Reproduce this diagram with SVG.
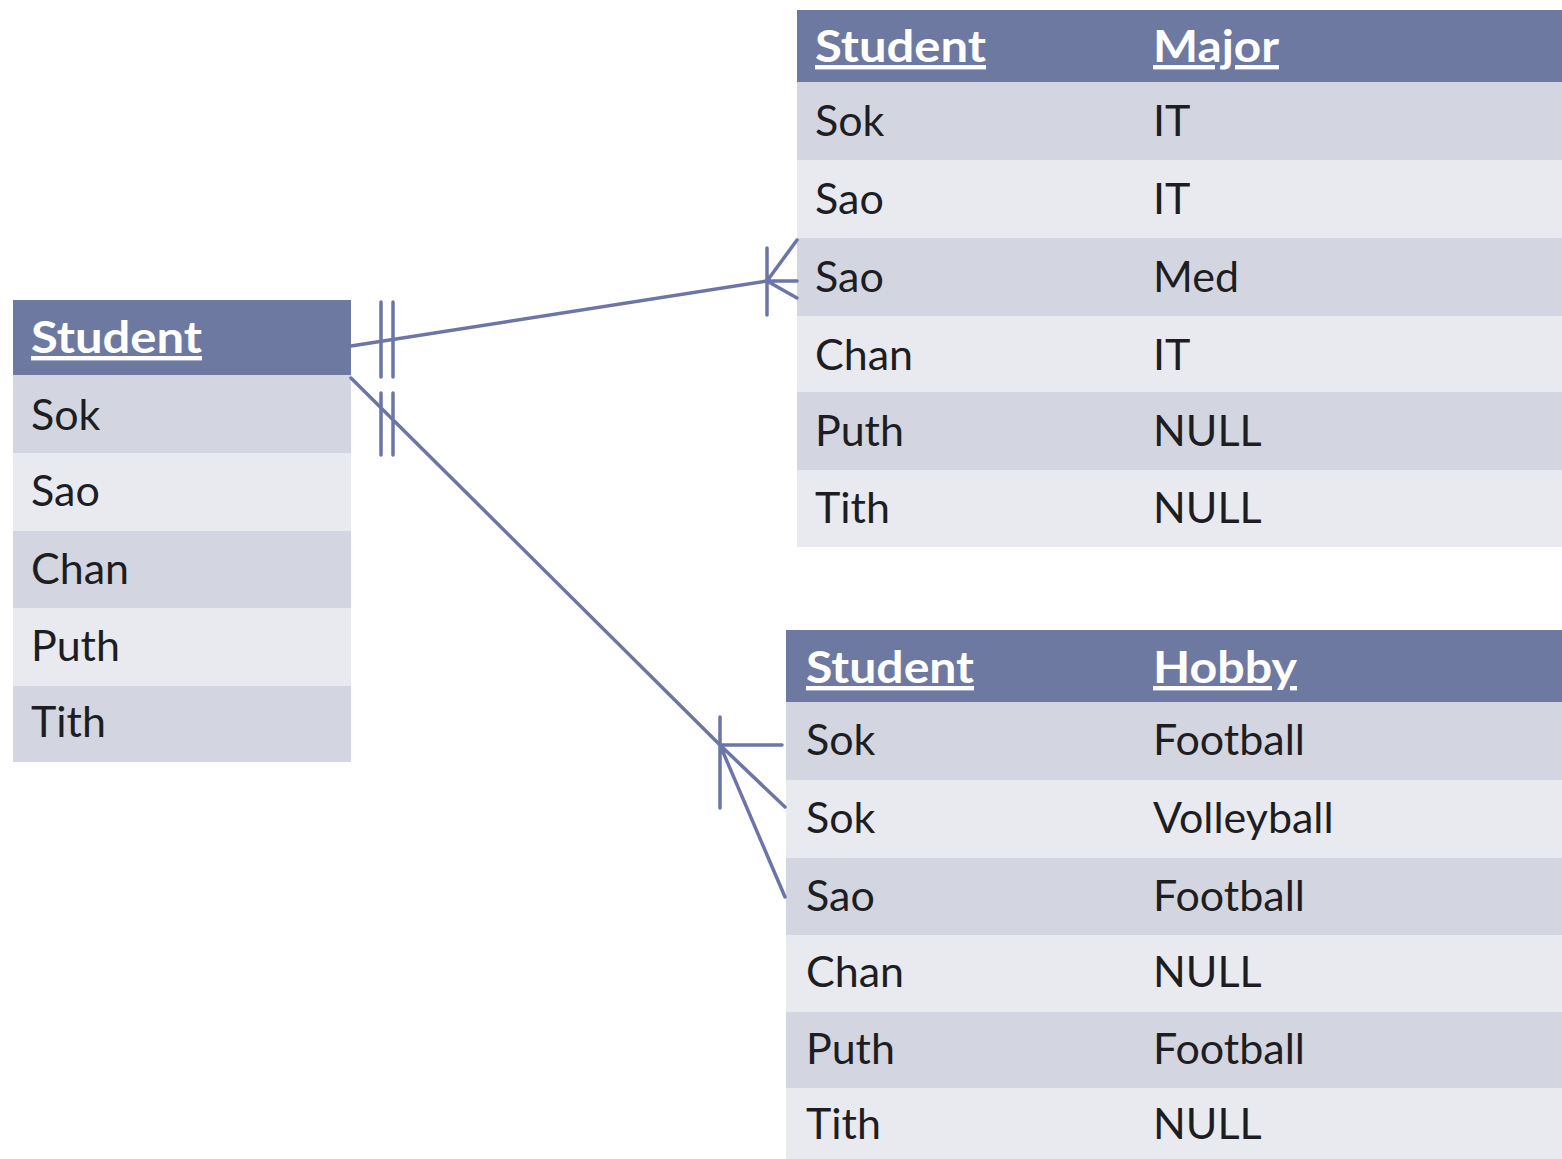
<svg xmlns="http://www.w3.org/2000/svg" width="1562" height="1159" viewBox="0 0 1562 1159">
<style>
.hdr{fill:#6e79a2}
.d{fill:#d3d6e0}
.l{fill:#e9eaef}
.ht{font-family:Lato,"Liberation Sans",sans-serif;font-weight:bold;font-size:44px;fill:#ffffff;text-decoration:underline}
.t{font-family:Lato,"Liberation Sans",sans-serif;font-size:43px;fill:#1e1e22}
.c{stroke:#6b76a6;stroke-width:3.5;fill:none;stroke-linecap:round}
</style>
<rect width="1562" height="1159" fill="#ffffff"/>
<g id="student">
<rect class="hdr" x="13" y="300" width="338" height="75"/>
<rect class="d" x="13" y="375" width="338" height="78"/>
<rect class="l" x="13" y="453" width="338" height="78"/>
<rect class="d" x="13" y="531" width="338" height="77"/>
<rect class="l" x="13" y="608" width="338" height="78"/>
<rect class="d" x="13" y="686" width="338" height="76"/>
<text class="ht" x="31" y="353" textLength="171" lengthAdjust="spacingAndGlyphs">Student</text>
<text class="t" x="31" y="430">Sok</text>
<text class="t" x="31" y="506">Sao</text>
<text class="t" x="31" y="584">Chan</text>
<text class="t" x="31" y="661">Puth</text>
<text class="t" x="31" y="737">Tith</text>
</g>
<g id="student-major">
<rect class="hdr" x="797" y="10" width="765" height="72"/>
<rect class="d" x="797" y="82" width="765" height="78"/>
<rect class="l" x="797" y="160" width="765" height="78"/>
<rect class="d" x="797" y="238" width="765" height="78"/>
<rect class="l" x="797" y="316" width="765" height="76"/>
<rect class="d" x="797" y="392" width="765" height="78"/>
<rect class="l" x="797" y="470" width="765" height="77"/>
<text class="ht" x="815" y="62" textLength="171" lengthAdjust="spacingAndGlyphs">Student</text>
<text class="ht" x="1153" y="62" textLength="126" lengthAdjust="spacingAndGlyphs">Major</text>
<text class="t" x="815" y="136">Sok</text><text class="t" x="1153" y="136">IT</text>
<text class="t" x="815" y="214">Sao</text><text class="t" x="1153" y="214">IT</text>
<text class="t" x="815" y="292">Sao</text><text class="t" x="1153" y="292">Med</text>
<text class="t" x="815" y="370">Chan</text><text class="t" x="1153" y="370">IT</text>
<text class="t" x="815" y="446">Puth</text><text class="t" x="1153" y="446">NULL</text>
<text class="t" x="815" y="523">Tith</text><text class="t" x="1153" y="523">NULL</text>
</g>
<g id="student-hobby">
<rect class="hdr" x="786" y="630" width="776" height="72"/>
<rect class="d" x="786" y="702" width="776" height="78"/>
<rect class="l" x="786" y="780" width="776" height="78"/>
<rect class="d" x="786" y="858" width="776" height="77"/>
<rect class="l" x="786" y="935" width="776" height="77"/>
<rect class="d" x="786" y="1012" width="776" height="76"/>
<rect class="l" x="786" y="1088" width="776" height="71"/>
<text class="ht" x="806" y="683" textLength="168" lengthAdjust="spacingAndGlyphs">Student</text>
<text class="ht" x="1153" y="683" textLength="144" lengthAdjust="spacingAndGlyphs">Hobby</text>
<text class="t" x="806" y="755">Sok</text><text class="t" x="1153" y="755">Football</text>
<text class="t" x="806" y="833">Sok</text><text class="t" x="1153" y="833">Volleyball</text>
<text class="t" x="806" y="911">Sao</text><text class="t" x="1153" y="911">Football</text>
<text class="t" x="806" y="987">Chan</text><text class="t" x="1153" y="987">NULL</text>
<text class="t" x="806" y="1064">Puth</text><text class="t" x="1153" y="1064">Football</text>
<text class="t" x="806" y="1139">Tith</text><text class="t" x="1153" y="1139">NULL</text>
</g>
<g id="connectors">
<path class="c" d="M351,346 L767,281"/>
<path class="c" d="M381,302 L381,377 M393,302 L393,377"/>
<path class="c" d="M767,248 L767,315 M767,281 L797,240 M767,281 L797,281 M767,281 L797,298"/>
<path class="c" d="M351,378 L720,745"/>
<path class="c" d="M381,393 L381,455 M393,393 L393,455"/>
<path class="c" d="M720,717 L720,808 M720,745 L782,745 M720,745 L785,807 M720,745 L785,897"/>
</g>
</svg>
